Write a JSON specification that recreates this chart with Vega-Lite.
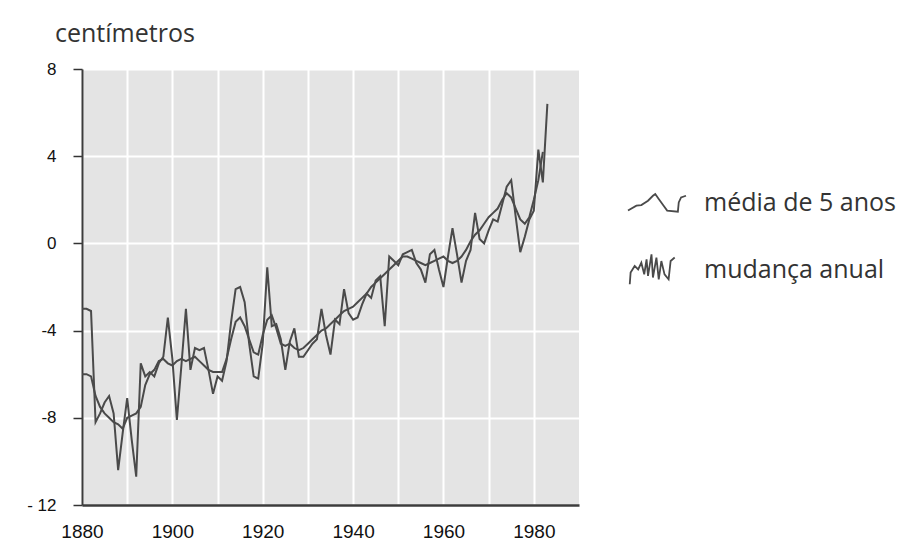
{
  "$schema": "https://vega.github.io/schema/vega-lite/v6.json",
  "autosize": {"type": "none"},
  "width": 497,
  "height": 436,
  "padding": {"left": 82, "top": 69, "right": 344, "bottom": 44},
  "background": "white",
  "title": {"text": "centímetros", "anchor": "start", "frame": "group", "dx": -27, "dy": 27, "offset": 20, "font": "Open Sans", "fontSize": 25, "fontWeight": "normal", "color": "#333333", "baseline": "alphabetic"},
  "data": {"values": [
    {"year": 1880, "anual": -3.0, "media": -6.0},
    {"year": 1881, "anual": -3.0, "media": -6.0},
    {"year": 1882, "anual": -3.1, "media": -6.1},
    {"year": 1883, "anual": -8.2, "media": -7.0},
    {"year": 1884, "anual": -7.8, "media": -7.5},
    {"year": 1885, "anual": -7.3, "media": -7.8},
    {"year": 1886, "anual": -7.0, "media": -8.0},
    {"year": 1887, "anual": -7.8, "media": -8.2},
    {"year": 1888, "anual": -10.4, "media": -8.3},
    {"year": 1889, "anual": -8.7, "media": -8.5},
    {"year": 1890, "anual": -7.1, "media": -8.0},
    {"year": 1891, "anual": -9.0, "media": -7.9},
    {"year": 1892, "anual": -10.7, "media": -7.8},
    {"year": 1893, "anual": -5.5, "media": -7.5},
    {"year": 1894, "anual": -6.1, "media": -6.5},
    {"year": 1895, "anual": -5.9, "media": -6.0},
    {"year": 1896, "anual": -6.1, "media": -5.8},
    {"year": 1897, "anual": -5.5, "media": -5.4},
    {"year": 1898, "anual": -5.2, "media": -5.3},
    {"year": 1899, "anual": -3.4, "media": -5.5},
    {"year": 1900, "anual": -5.3, "media": -5.6},
    {"year": 1901, "anual": -8.1, "media": -5.4},
    {"year": 1902, "anual": -5.6, "media": -5.3},
    {"year": 1903, "anual": -3.0, "media": -5.4},
    {"year": 1904, "anual": -5.8, "media": -5.3},
    {"year": 1905, "anual": -4.8, "media": -5.2},
    {"year": 1906, "anual": -4.9, "media": -5.4},
    {"year": 1907, "anual": -4.8, "media": -5.6},
    {"year": 1908, "anual": -5.8, "media": -5.8},
    {"year": 1909, "anual": -6.9, "media": -5.9},
    {"year": 1910, "anual": -6.1, "media": -5.9},
    {"year": 1911, "anual": -6.3, "media": -5.9},
    {"year": 1912, "anual": -5.4, "media": -5.3},
    {"year": 1913, "anual": -3.6, "media": -4.4},
    {"year": 1914, "anual": -2.1, "media": -3.6},
    {"year": 1915, "anual": -2.0, "media": -3.4},
    {"year": 1916, "anual": -2.7, "media": -3.8},
    {"year": 1917, "anual": -4.6, "media": -4.4},
    {"year": 1918, "anual": -6.1, "media": -5.0},
    {"year": 1919, "anual": -6.2, "media": -5.1},
    {"year": 1920, "anual": -4.6, "media": -4.2},
    {"year": 1921, "anual": -1.1, "media": -3.5},
    {"year": 1922, "anual": -3.8, "media": -3.3},
    {"year": 1923, "anual": -3.7, "media": -3.9},
    {"year": 1924, "anual": -4.4, "media": -4.6},
    {"year": 1925, "anual": -5.8, "media": -4.7},
    {"year": 1926, "anual": -4.5, "media": -4.6},
    {"year": 1927, "anual": -3.9, "media": -4.8},
    {"year": 1928, "anual": -5.2, "media": -4.9},
    {"year": 1929, "anual": -5.2, "media": -4.8},
    {"year": 1930, "anual": -4.9, "media": -4.6},
    {"year": 1931, "anual": -4.6, "media": -4.4},
    {"year": 1932, "anual": -4.4, "media": -4.2},
    {"year": 1933, "anual": -3.0, "media": -4.0},
    {"year": 1934, "anual": -4.2, "media": -3.9},
    {"year": 1935, "anual": -5.1, "media": -3.7},
    {"year": 1936, "anual": -3.5, "media": -3.5},
    {"year": 1937, "anual": -3.7, "media": -3.3},
    {"year": 1938, "anual": -2.1, "media": -3.1},
    {"year": 1939, "anual": -3.2, "media": -3.0},
    {"year": 1940, "anual": -3.5, "media": -2.9},
    {"year": 1941, "anual": -3.4, "media": -2.7},
    {"year": 1942, "anual": -2.8, "media": -2.5},
    {"year": 1943, "anual": -2.3, "media": -2.3},
    {"year": 1944, "anual": -2.5, "media": -2.0},
    {"year": 1945, "anual": -1.7, "media": -1.8},
    {"year": 1946, "anual": -1.5, "media": -1.6},
    {"year": 1947, "anual": -3.8, "media": -1.4},
    {"year": 1948, "anual": -0.6, "media": -1.2},
    {"year": 1949, "anual": -0.8, "media": -1.0},
    {"year": 1950, "anual": -1.0, "media": -0.8},
    {"year": 1951, "anual": -0.5, "media": -0.6},
    {"year": 1952, "anual": -0.4, "media": -0.6},
    {"year": 1953, "anual": -0.3, "media": -0.7},
    {"year": 1954, "anual": -0.9, "media": -0.8},
    {"year": 1955, "anual": -1.2, "media": -0.9},
    {"year": 1956, "anual": -1.8, "media": -1.0},
    {"year": 1957, "anual": -0.5, "media": -0.9},
    {"year": 1958, "anual": -0.3, "media": -0.8},
    {"year": 1959, "anual": -1.2, "media": -0.7},
    {"year": 1960, "anual": -2.0, "media": -0.6},
    {"year": 1961, "anual": -0.6, "media": -0.8},
    {"year": 1962, "anual": 0.7, "media": -0.9},
    {"year": 1963, "anual": -0.5, "media": -0.8},
    {"year": 1964, "anual": -1.8, "media": -0.6},
    {"year": 1965, "anual": -0.8, "media": -0.3},
    {"year": 1966, "anual": -0.3, "media": 0.1},
    {"year": 1967, "anual": 1.4, "media": 0.4},
    {"year": 1968, "anual": 0.2, "media": 0.6},
    {"year": 1969, "anual": 0.0, "media": 0.9},
    {"year": 1970, "anual": 0.6, "media": 1.2},
    {"year": 1971, "anual": 1.1, "media": 1.4},
    {"year": 1972, "anual": 1.0, "media": 1.6},
    {"year": 1973, "anual": 1.8, "media": 2.0},
    {"year": 1974, "anual": 2.6, "media": 2.3},
    {"year": 1975, "anual": 2.9, "media": 2.1},
    {"year": 1976, "anual": 1.2, "media": 1.6},
    {"year": 1977, "anual": -0.4, "media": 1.1},
    {"year": 1978, "anual": 0.3, "media": 0.9},
    {"year": 1979, "anual": 1.1, "media": 1.2},
    {"year": 1980, "anual": 1.5, "media": 2.0},
    {"year": 1981, "anual": 4.3, "media": 2.9},
    {"year": 1982, "anual": 2.8, "media": 4.2},
    {"year": 1983, "anual": 6.4, "media": null}
  ]},
  "transform": [
    {"fold": ["media", "anual"], "as": ["serie", "value"]},
    {"filter": "isValid(datum.value)"}
  ],
  "mark": {"type": "line", "strokeWidth": 2, "clip": true},
  "encoding": {
    "x": {
      "field": "year", "type": "quantitative",
      "scale": {"domain": [1880, 1990], "nice": false, "zero": false},
      "axis": {
        "title": null,
        "values": [1880, 1890, 1900, 1910, 1920, 1930, 1940, 1950, 1960, 1970, 1980],
        "format": "d",
        "labelExpr": "datum.value % 20 == 0 ? datum.label : ''",
        "labelFlush": false,
        "ticks": false,
        "labelPadding": 17,
        "labelFont": "Liberation Sans",
        "labelFontSize": 19,
        "labelColor": "#111111",
        "domainColor": "#3c3c3c",
        "domainWidth": 2.5,
        "grid": true,
        "gridColor": "#ffffff",
        "gridWidth": 2,
        "gridOpacity": 1
      }
    },
    "y": {
      "field": "value", "type": "quantitative",
      "scale": {"domain": [-12, 8], "nice": false, "zero": false},
      "axis": {
        "title": null,
        "values": [-12, -8, -4, 0, 4, 8],
        "labelExpr": "datum.value == -12 ? '- 12' : replace(datum.label, '−', '-')",
        "labelFlush": false,
        "tickSize": 9,
        "tickColor": "#333333",
        "tickWidth": 1.5,
        "labelPadding": 17,
        "labelFont": "Liberation Sans",
        "labelFontSize": 17,
        "labelColor": "#111111",
        "domainColor": "#3c3c3c",
        "domainWidth": 2,
        "grid": true,
        "gridColor": "#ffffff",
        "gridWidth": 2,
        "gridOpacity": 1
      }
    },
    "color": {
      "field": "serie", "type": "nominal",
      "scale": {"domain": ["media", "anual"], "range": ["#4a4a4a", "#4a4a4a"]},
      "legend": {
        "title": null,
        "orient": "none",
        "legendX": 545,
        "legendY": 104,
        "padding": 0,
        "symbolSize": 3364,
        "symbolStrokeWidth": 1.8,
        "symbolFillColor": "transparent",
        "rowPadding": 24,
        "labelOffset": 17,
        "labelFont": "Open Sans",
        "labelFontSize": 25,
        "labelColor": "#333333",
        "labelLimit": 400,
        "labelExpr": "datum.value == 'media' ? 'média de 5 anos' : 'mudança anual'",
        "encode": {
          "symbols": {
            "update": {
              "shape": {"signal": "datum.value == 'media' ? 'M-1,0.26L-0.71,0.09L-0.54,0.07L-0.31,-0.08L-0.14,-0.25L-0.06,-0.31L0.06,-0.14L0.21,0.07L0.35,0.26L0.72,0.3L0.75,-0.02L0.83,-0.19L1,-0.25' : 'M-0.94,0.49L-0.91,0.09L-0.77,-0.14L-0.65,-0.02L-0.54,-0.25L-0.44,0.15L-0.36,-0.37L-0.31,0.2L-0.19,-0.54L-0.14,0.26L-0.02,-0.43L0.06,0.32L0.15,-0.31L0.26,0.15L0.4,0.32L0.47,-0.31L0.61,-0.43'"},
              "fill": {"value": "transparent"},
              "stroke": {"value": "#222222"},
              "strokeWidth": {"value": 1.8}
            }
          }
        }
      }
    }
  },
  "config": {
    "view": {"fill": "#e4e4e4", "stroke": null}
  }
}
